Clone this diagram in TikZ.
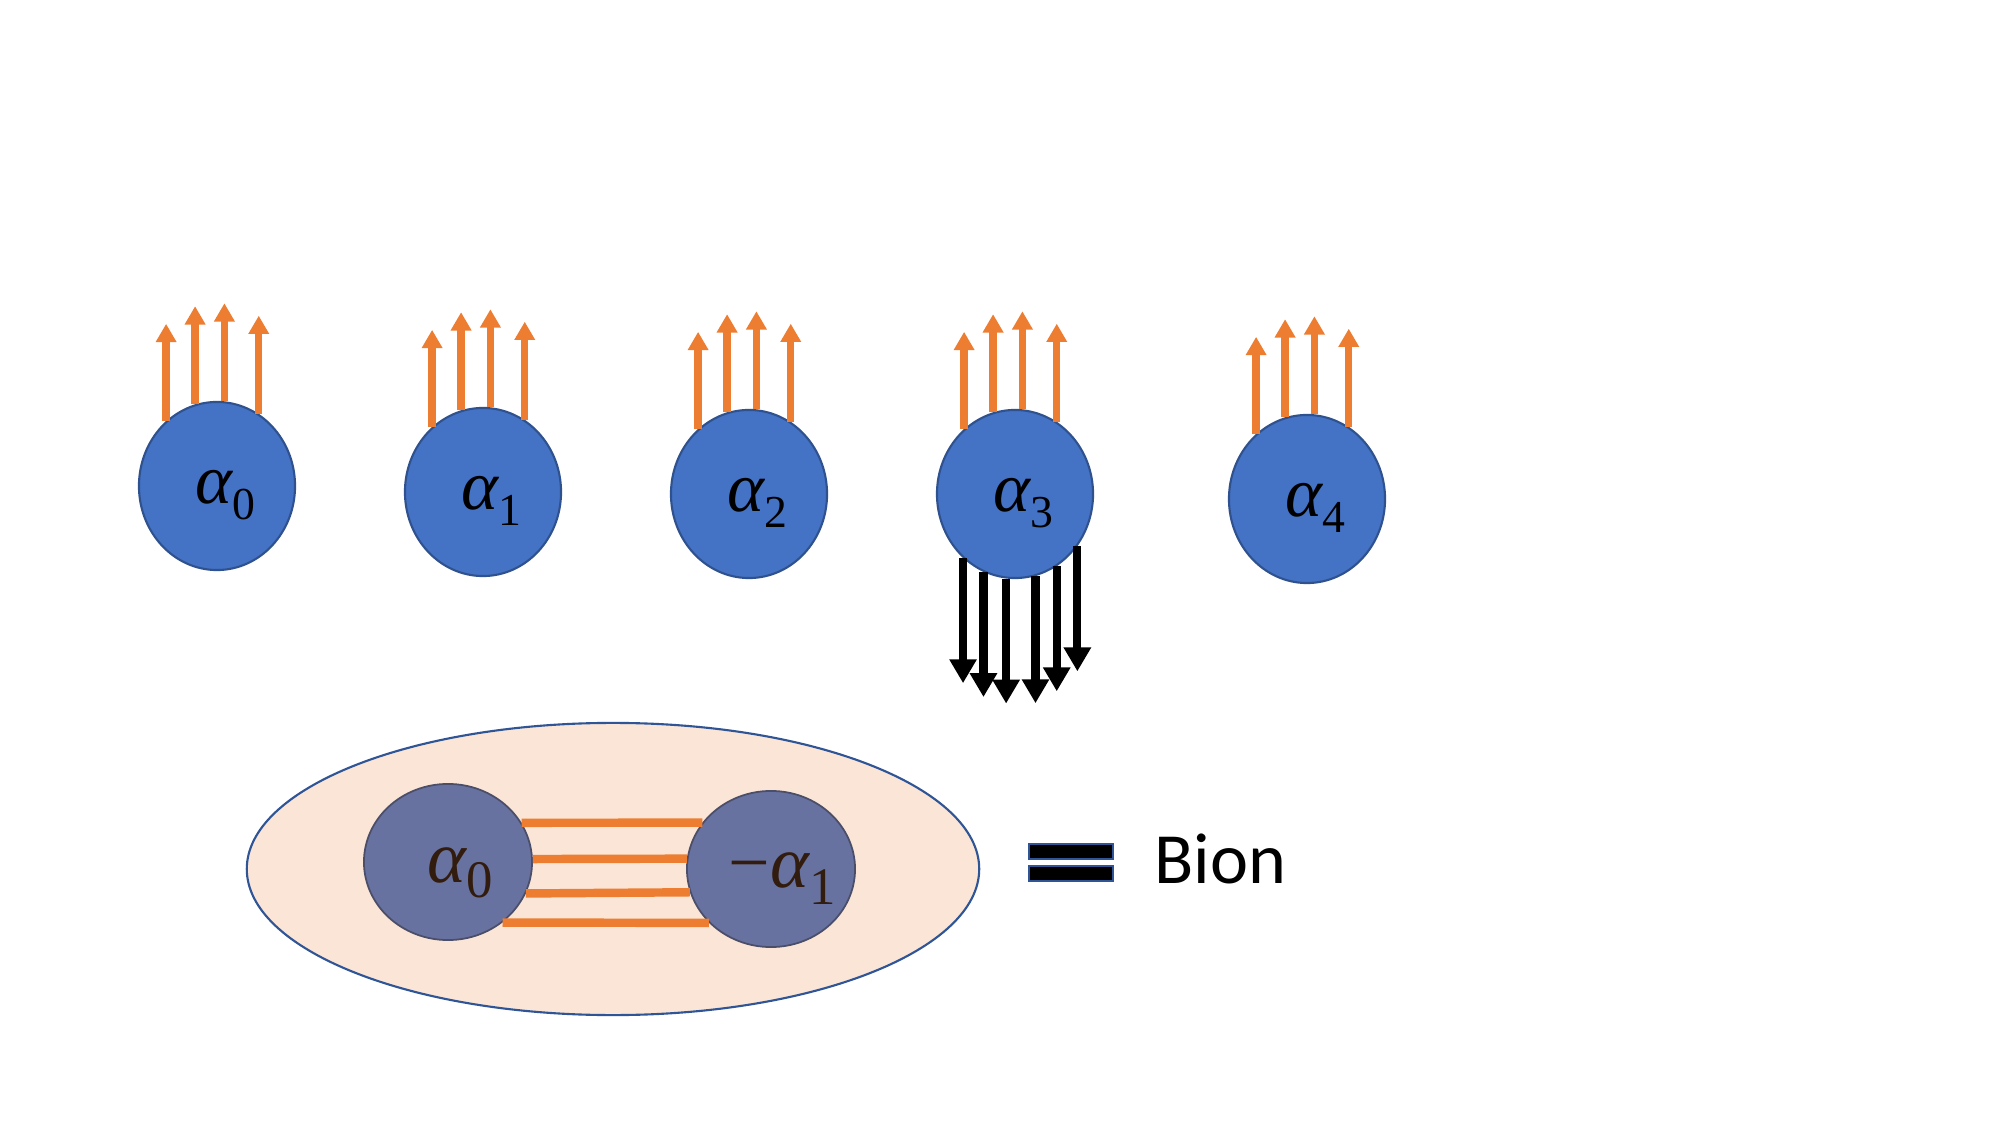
\documentclass[tikz,border=0pt]{standalone}
\usepackage{fontspec}
\setmainfont{Liberation Serif}
\newfontfamily\calib{Carlito}
\usetikzlibrary{arrows.meta,shapes.geometric,calc}
\definecolor{cblue}{RGB}{68,114,196}
\definecolor{cblueline}{RGB}{47,82,143}
\definecolor{corange}{RGB}{237,125,49}
\definecolor{cpeach}{RGB}{251,229,214}
\definecolor{cslate}{RGB}{104,114,160}
\definecolor{cslateline}{RGB}{75,78,105}
\definecolor{cbrown}{RGB}{50,28,14}
\definecolor{cellline}{RGB}{47,85,151}
\newcommand{\toplab}[1]{{\fontsize{20}{22}\selectfont\itshape α}{\fontsize{13}{15}\selectfont\raisebox{-4.5pt}{#1}}}
\newcommand{\botlab}[3]{{\fontsize{21}{23}\selectfont #1\itshape α}{\fontsize{15}{17}\selectfont\raisebox{-#3}{#2}}}
\begin{document}
\begin{tikzpicture}[x=0.01cm,y=-0.01cm,
  ball/.style={ellipse, minimum width=1.56cm, minimum height=1.68cm, inner sep=0pt,
    fill=cblue, draw=cblueline, line width=0.6pt},
  inball/.style={ellipse, minimum width=1.68cm, minimum height=1.56cm, inner sep=0pt,
    fill=cslate, draw=cslateline, line width=0.5pt},
  lab/.style={anchor=base west, inner sep=0pt},
  oarr/.style={draw=corange, line width=2.1pt, -{Triangle[width=5.6pt,length=5.2pt]}},
  barr/.style={draw=black, line width=2.3pt, -{Triangle[width=7.4pt,length=6.8pt]}},
  bar/.style={draw=corange, line width=2.4pt},
  legbar/.style={minimum width=0.84cm, minimum height=0.15cm, inner sep=0pt,
    fill=black, draw=cellline, line width=0.8pt}]
\useasboundingbox (0,0) rectangle (2000,1125);
\fill[white] (0,0) rectangle (2000,1125);

% top row of balls
\node[ball] (c0) at (217,486) {};
\node[ball] (c1) at (483,492) {};
\node[ball] (c2) at (749,494) {};
\node[ball] (c3) at (1015,494) {};
\node[ball] (c4) at (1307,499) {};

\foreach \i in {0,...,4}{
  \node[lab] (t\i) at ($(c\i)+(-22,18)$) {\toplab{\i}};
  \draw[oarr] (c\i.128.7) -- ++(0,-97);
  \draw[oarr] (c\i.105.3) -- ++(0,-98);
  \draw[oarr] (c\i.85.2) -- ++(0,-98);
  \draw[oarr] (c\i.60.2) -- ++(0,-98);
}

% downward black arrows from alpha_3
\draw[barr] (c3.231.3) -- ++(0,125);
\draw[barr] (c3.248.8) -- ++(0,125);
\draw[barr] (c3.264.5) -- ++(0,125);
\draw[barr] (c3.284.6) -- ++(0,127);
\draw[barr] (c3.300.7) -- ++(0,125);
\draw[barr] (c3.320.6) -- ++(0,125);

% bion
\node[ellipse, minimum width=7.32cm, minimum height=2.92cm, inner sep=0pt,
  fill=cpeach, draw=cellline, line width=0.6pt] (big) at (613,869) {};
\node[inball] (L) at (448,862) {};
\node[inball] (R) at (771,869) {};
\draw[bar] (L.28.2) -- (R.146.2);
\draw[bar] (L.2) -- (R.173.2);
\draw[bar] (L.338.1) -- (R.196.5);
\draw[bar] (L.312.9) -- (R.221.3);
\node[lab, text=cbrown] (lL) at ($(L)+(-21,20)$) {\botlab{}{0}{4.3pt}};
\node[lab, text=cbrown] (lR) at ($(R)+(-43,18)$) {\botlab{−}{1}{5pt}};

% legend
\node[legbar] (r1) at (1071,851.5) {};
\node[legbar] (r2) at (1071,873.5) {};
\node[lab, font=\calib\fontsize{20.5}{24}\selectfont] (bion) at (1154,883) {Bion};
\end{tikzpicture}
\end{document}
